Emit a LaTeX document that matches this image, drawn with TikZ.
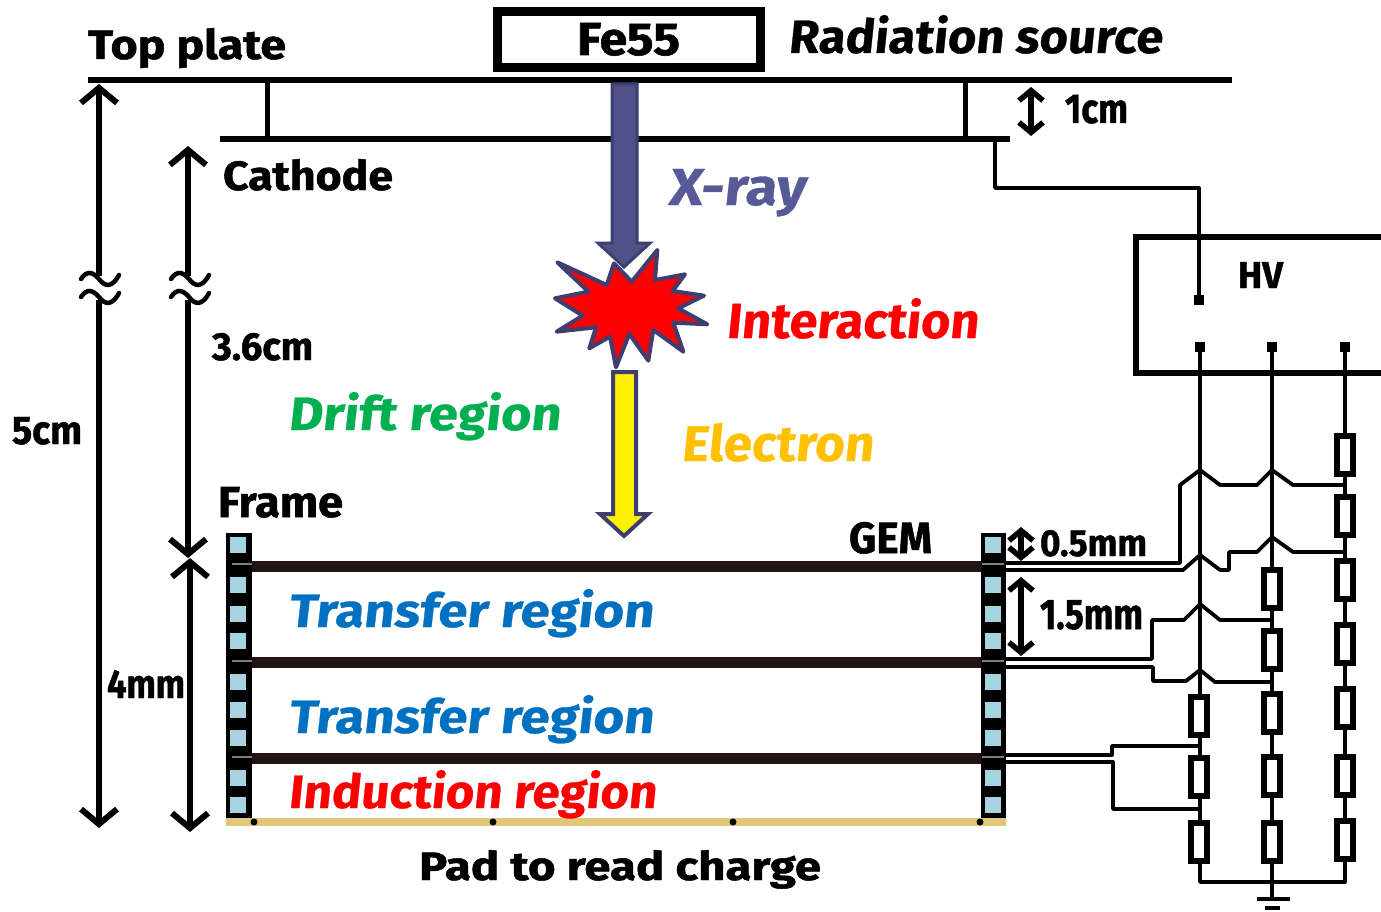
\documentclass[tikz,border=0pt]{standalone}
\usepackage{fontspec}
\usepackage{graphicx}
\setmainfont{Fira Sans}
\newfontfamily\heavy[FakeBold=1.2]{Fira Sans}
\newfontfamily\pop[FakeSlant=0.1,FakeBold=0.6]{Fira Sans}
\usetikzlibrary{arrows.meta}
\definecolor{xray}{HTML}{4F5188}
\definecolor{xrayd}{HTML}{3E3F70}
\definecolor{xtxt}{HTML}{565A96}
\definecolor{drift}{HTML}{00B050}
\definecolor{elec}{HTML}{FFC000}
\definecolor{blu}{HTML}{0070C0}
\definecolor{sq}{HTML}{A5D3E0}
\definecolor{pad}{HTML}{E0C878}
\definecolor{gem}{HTML}{1F1512}
\newcommand{\fit}[3]{\resizebox{#1pt}{#2pt}{#3}}
\newcommand{\blk}[5]{\node[lb] at (#1,#2) {\fit{#3}{#4}{\heavy\bfseries #5}};}
\newcommand{\col}[6]{\node[lb,text=#6] at (#1,#2) {\fit{#3}{#4}{\pop\bfseries #5}};}
\newcommand{\resb}[2]{\draw[resbox] (#1-8,#2-19) rectangle (#1+8,#2+19);}
\newcommand{\sqb}[2]{\fill[sq] (#1-8,#2-8) rectangle (#1+8,#2+8);}
\newcommand{\brk}[2]{\draw[wavy] (#1-18,#2) .. controls (#1-12,#2-9) and (#1-6,#2-7) .. (#1,#2) .. controls (#1+6,#2+8) and (#1+13,#2+9) .. (#1+20,#2-4);}
\newcommand{\term}[2]{\fill (#1-5,#2-5) rectangle (#1+5,#2+5);}
\tikzset{
  lb/.style={anchor=base west,inner sep=0pt,outer sep=0pt},
  wire/.style={line width=3.8pt,line join=round},
  resbox/.style={line width=6pt,fill=white},
  wavy/.style={line width=4.5pt,line cap=round},
  dim/.style={line width=5.5pt,{Straight Barb[length=15pt,width=36pt,line width=6pt]}-{Straight Barb[length=15pt,width=36pt,line width=6pt]}},
  dimup/.style={line width=5.5pt,{Straight Barb[length=15pt,width=36pt,line width=6pt]}-},
  dimdn/.style={line width=5.5pt,-{Straight Barb[length=15pt,width=36pt,line width=6pt]}},
  dims/.style={line width=5.5pt,{Straight Barb[length=10pt,width=24pt,line width=5.5pt]}-{Straight Barb[length=10pt,width=24pt,line width=5.5pt]}},
  plate/.style={line width=6pt},
  gemline/.style={line width=11pt,draw=gem},
  stripe/.style={line width=1.5pt,draw=gem!55!white},
}
\begin{document}
\begin{tikzpicture}[x=1pt,y=-1pt]
\useasboundingbox (0,0) rectangle (1381,912);
\fill[white] (0,0) rectangle (1381,912);
% plates
\draw[plate] (88,80) -- (1232,80);
\draw[plate] (220,139) -- (1010,139);
\draw[line width=5pt] (267,80) -- (267,139);
\draw[line width=5pt] (965,80) -- (965,139);
% source
\draw[line width=9pt] (497,12) rectangle (760,68);
\blk{577}{55}{103}{32}{Fe55}
% dimension arrows
\draw[dimup] (99,84) -- (99,276);
\draw[dimdn] (99,300) -- (99,828);
\brk{99}{279}\brk{99}{297}
\draw[dimup] (188,146) -- (188,276);
\draw[dimdn] (188,300) -- (188,558);
\brk{189}{279}\brk{189}{297}
\draw[dim] (190,558) -- (190,832);
\draw[dims] (1031,87) -- (1031,136);
\draw[dims] (1021,527) -- (1021,561);
\draw[dims] (1021,577) -- (1021,656);
% pad
\draw[line width=8pt,draw=pad] (226,822) -- (1006,822);
\foreach \px in {254,493,733,980} {\fill (\px,822) circle (3.5);}
% GEM lines
\draw[gemline] (240,566) -- (994,566);
\draw[gemline] (240,662) -- (994,662);
\draw[gemline] (240,758) -- (994,758);
% frames
\fill[black] (226,533) rectangle (252,818);
\fill[black] (981,533) rectangle (1006,818);
\foreach \fy in {545,585,614,641,682,710,738,778,805} {\sqb{238}{\fy}\sqb{993}{\fy}}
\draw[stripe] (232,564) -- (252,564);
\draw[stripe] (232,661) -- (252,661);
\draw[stripe] (232,757) -- (252,757);
\draw[stripe] (982,564) -- (1004,564);
\draw[stripe] (982,661) -- (1004,661);
\draw[stripe] (982,757) -- (1004,757);
% HV
\draw[line width=5.5pt] (1381,237) -- (1136,237) -- (1136,373) -- (1381,373);
\blk{1238}{288}{45}{26}{HV}
\draw[wire] (995,139) -- (995,188) -- (1199,188) -- (1199,300);
\term{1199}{300}\term{1200}{347}\term{1272}{347}\term{1345}{347}
% column wires
\draw[wire] (1200,347) -- (1200,882) -- (1345,882) -- (1345,347);
\draw[wire] (1272,347) -- (1272,899);
\draw[line width=4pt] (1257,899) -- (1290,899);
\draw[line width=4pt] (1265,908) -- (1280,908);
% resistors
\resb{1199}{716}\resb{1199}{777}\resb{1199}{842}
\resb{1272}{589}\resb{1272}{650}\resb{1272}{713}\resb{1272}{776}\resb{1272}{842}
\resb{1345}{455}\resb{1345}{516}\resb{1345}{580}\resb{1345}{644}\resb{1345}{708}\resb{1345}{776}\resb{1345}{840}
% GEM connections
\draw[wire] (1006,563) -- (1180,563) -- (1180,485) -- (1200,470) -- (1220,485) -- (1257,485) -- (1272,470) -- (1293,485) -- (1345,485);
\draw[wire] (1006,570) -- (1183,570) -- (1200,555) -- (1220,570) -- (1229,570) -- (1229,552) -- (1257,552) -- (1272,537) -- (1293,552) -- (1345,552);
\draw[wire] (1006,659) -- (1152,659) -- (1152,620) -- (1184,620) -- (1200,604) -- (1220,620) -- (1272,620);
\draw[wire] (1006,667) -- (1153,667) -- (1153,681) -- (1186,681) -- (1200,670) -- (1215,682) -- (1272,682);
\draw[wire] (1006,755) -- (1112,755) -- (1112,746) -- (1200,746);
\draw[wire] (1006,762) -- (1113,762) -- (1113,809) -- (1200,809);
% X-ray arrow
\draw[draw=xrayd,fill=xray,line width=3pt,line join=miter]
  (612,84) -- (637,84) -- (637,243) -- (650,243) -- (624,267) -- (598,243) -- (612,243) -- cycle;
% burst
\begin{scope}[shift={(540,230)},x=0.3333pt,y=-0.3333pt]
\draw[draw=xrayd,fill=red,line width=4pt,line join=round]
 (52,97) -- (200,165) -- (222,100) -- (275,155) -- (352,60) -- (345,150) -- (435,133) -- (398,183)
 -- (492,197) -- (415,235) -- (502,283) -- (400,278) -- (430,365) -- (340,300) -- (325,392)
 -- (268,312) -- (228,412) -- (210,320) -- (148,355) -- (168,292) -- (50,305) -- (128,257)
 -- (45,205) -- (145,185) -- cycle;
\end{scope}
% electron arrow
\draw[draw=xrayd,fill=yellow,line width=4pt,line join=miter]
  (613,372) -- (636,372) -- (636,514) -- (648,514) -- (624,536) -- (600,514) -- (613,514) -- cycle;
% labels
\blk{88}{59}{198}{31}{Top plate}
\node[lb] at (788,53) {\fit{374}{38}{\pop\bfseries Radiation source}};
\blk{1065}{123}{63}{28}{1cm}
\blk{223}{190}{170}{31}{Cathode}
\col{668}{205}{137}{36}{X-ray}{xtxt}
\col{726}{338}{252}{40}{Interaction}{red}
\blk{212}{360}{101}{27}{3.6cm}
\col{288}{430}{272}{38}{Drift region}{drift}
\col{681}{461}{192}{38}{Electron}{elec}
\blk{12}{444}{70}{27}{5cm}
\blk{218}{517}{125}{30}{Frame}
\blk{849}{553}{83}{31}{GEM}
\blk{1040}{556}{107}{26}{0.5mm}
\blk{1040}{629}{103}{29}{1.5mm}
\blk{107}{698}{78}{28}{4mm}
\col{288}{627}{365}{38}{Transfer region}{blu}
\col{288}{733}{365}{38}{Transfer region}{blu}
\col{288}{808}{368}{38}{Induction region}{red}
\blk{419}{880}{402}{30}{Pad to read charge}
\end{tikzpicture}
\end{document}
